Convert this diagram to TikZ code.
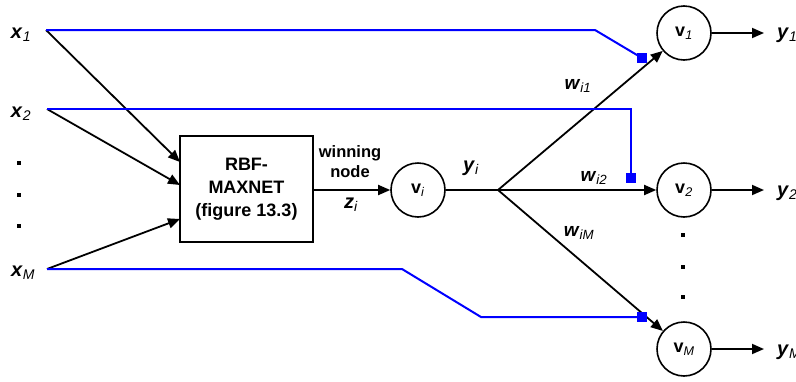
\documentclass[tikz,border=0pt]{standalone}
\usepackage{fontspec}
\setmainfont{Liberation Sans}
\usetikzlibrary{arrows.meta}
\newcommand\sublab[2]{\textbf{\textit{#1}}\textsubscript{\textit{#2}}}
\newcommand\subup[2]{\textbf{#1}\textsubscript{\textit{#2}}}
\tikzset{
  conn/.style={line width=1.8pt, -{Triangle[length=12pt,width=10pt]}},
  plain/.style={line width=1.8pt},
  bline/.style={line width=2pt, blue, line join=miter},
  neuron/.style={circle, draw, line width=1.6pt, minimum size=54pt, inner sep=0pt, font=\fontsize{18}{20}\selectfont},
  lab/.style={font=\fontsize{20}{22}\selectfont, inner sep=0pt},
  wlab/.style={font=\fontsize{19}{21}\selectfont, inner sep=0pt},
  sq/.style={fill=blue, draw=none, minimum size=10pt, inner sep=0pt},
  dotn/.style={rectangle, fill=black, minimum size=3.5pt, inner sep=0pt},
  boxn/.style={draw, line width=1.8pt, minimum width=133pt, minimum height=106pt, align=center, font=\fontsize{18}{23}\selectfont\bfseries}
}
\begin{document}
\begin{tikzpicture}[x=1pt,y=-1pt]
\useasboundingbox (0,0) rectangle (796,381);
% input labels
\node[lab] (lx1) at (21,35) {\sublab{x}{1}};
\node[lab] (lx2) at (21,114) {\sublab{x}{2}};
\node[lab] (lxM) at (23,273) {\sublab{x}{M}};
\node[dotn] (d1) at (19,163) {};
\node[dotn] (d2) at (19,195) {};
\node[dotn] (d3) at (19,226) {};
\coordinate (i1) at (46,30);
\coordinate (i2) at (47,109);
\coordinate (iM) at (47,269);
% box
\node[boxn] (box) at (246.5,189) {RBF-\\MAXNET\\(figure 13.3)};
\coordinate (e1) at (180,162);
\coordinate (e2) at (180,185);
\coordinate (eM) at (180,219);
\draw[conn] (i1) -- (e1);
\draw[conn] (i2) -- (e2);
\draw[conn] (iM) -- (eM);
% winner
\node[font=\fontsize{16.5}{20}\selectfont\bfseries, align=center, inner sep=0pt] (win) at (350,162) {winning\\node};
\node[lab] (zi) at (351,205) {\sublab{z}{i}};
\node[neuron] (vi) at (418,190) {\subup{v}{i}};
\draw[conn] (box.east |- vi.west) -- (vi.west);
\node[lab] (yi) at (471,168) {\sublab{y}{i}};
\coordinate (b) at (498,190);
\draw[plain] (vi.east) -- (b);
% output neurons
\node[neuron] (v1) at (684,33) {\subup{v}{1}};
\node[neuron] (v2) at (684,190) {\subup{v}{2}};
\node[neuron] (vM) at (684,349) {\subup{v}{M}};
\draw[conn] (b) -- (v1);
\draw[conn] (b) -- (v2);
\draw[conn] (b) -- (vM);
\node[wlab] (w1) at (578,86) {\sublab{w}{i1}};
\node[wlab] (w2) at (594,178) {\sublab{w}{i2}};
\node[wlab] (wM) at (579,233) {\sublab{w}{iM}};
\node[dotn] (r1) at (683,235) {};
\node[dotn] (r2) at (683,267) {};
\node[dotn] (r3) at (683,297) {};
% outputs
\node[lab, anchor=west] (y1) at (777,35) {\sublab{y}{1}};
\node[lab, anchor=west] (y2) at (777,193) {\sublab{y}{2}};
\node[lab, anchor=west] (yM) at (777,352) {\sublab{y}{M}};
\coordinate (o1) at (764,33);
\coordinate (o2) at (764,190);
\coordinate (oM) at (764,349);
\draw[conn] (v1.east) -- (o1);
\draw[conn] (v2.east) -- (o2);
\draw[conn] (vM.east) -- (oM);
% blue lateral lines
\node[sq] (s1) at (642,58) {};
\node[sq] (s2) at (631,178) {};
\node[sq] (sM) at (642,317) {};
\draw[bline] (i1) -- (595,30) -- (s1.center);
\draw[bline] (i2) -- (631,109) -- (s2.center);
\draw[bline] (iM) -- (402,269) -- (481,317) -- (sM.center);
\end{tikzpicture}
\end{document}
